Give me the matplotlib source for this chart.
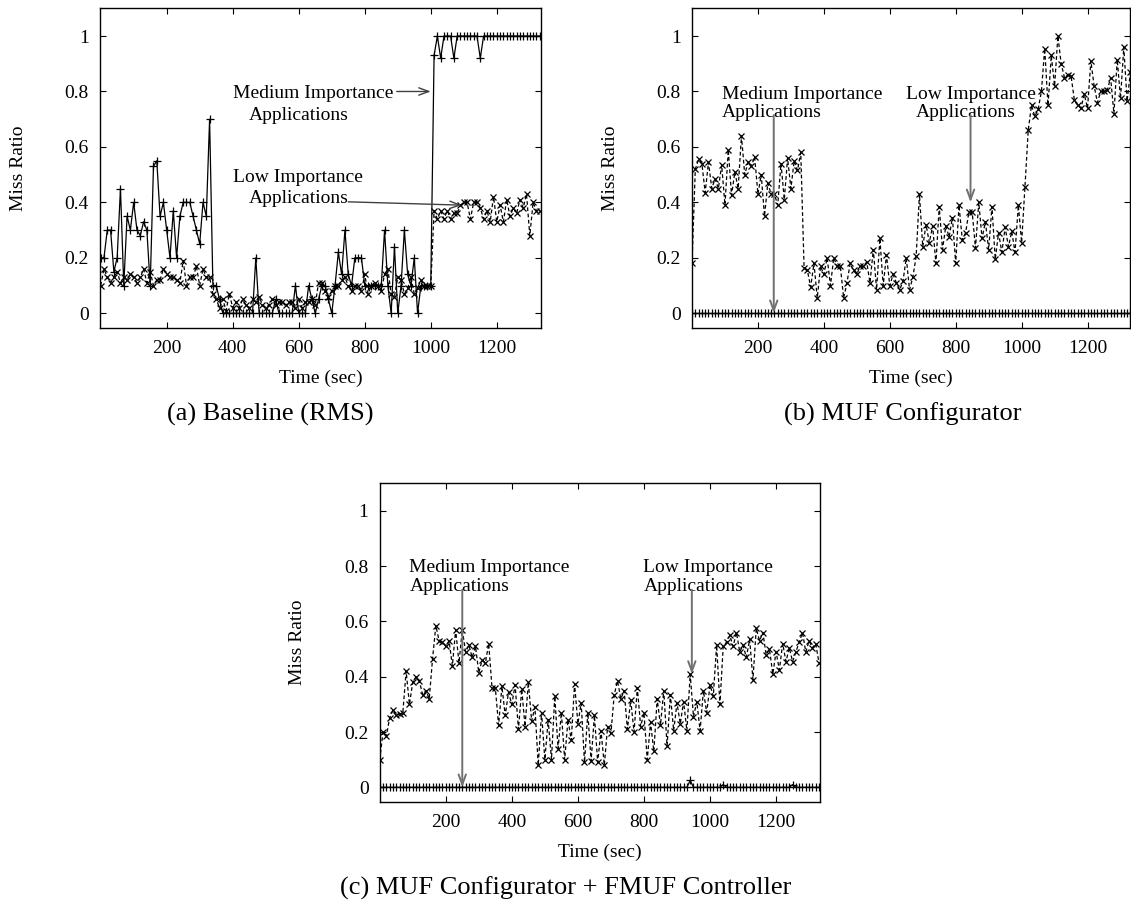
import numpy as np
import matplotlib
matplotlib.use("Agg")
import matplotlib.pyplot as plt

plt.rcParams["font.family"] = ["Liberation Serif", "DejaVu Serif"]
plt.rcParams["mathtext.fontset"] = "stix"

# sampling instants (s), one sample every 10 s
time_s = np.arange(0, 1340, 10)

# (a) Baseline (RMS)
rms_medium = [
    0.2, 0.2, 0.3, 0.3, 0.15, 0.2, 0.45, 0.1, 0.35, 0.3,
    0.4, 0.3, 0.28, 0.33, 0.3, 0.1, 0.53, 0.55, 0.35, 0.4,
    0.3, 0.2, 0.37, 0.2, 0.35, 0.4, 0.4, 0.4, 0.35, 0.3,
    0.25, 0.4, 0.35, 0.7,
    0.1, 0.1, 0.05, 0, 0, 0, 0, 0, 0, 0, 0, 0, 0,
    0.2, 0, 0, 0, 0, 0, 0.05, 0, 0, 0,
    0, 0, 0.1, 0, 0, 0, 0.1, 0.05, 0, 0.05,
    0.1, 0.1, 0.05, 0, 0.1, 0.22, 0.14, 0.3, 0.14, 0.1,
    0.2, 0.2, 0.2, 0.1, 0.1, 0.1, 0.1, 0.1, 0.1, 0.3,
    0.1, 0, 0.24, 0, 0.1, 0.3, 0.14, 0.1, 0.2, 0,
    0.1, 0.1, 0.1, 0.1,
    0.93, 1, 0.92, 1, 1, 1, 0.92, 1, 1, 1, 1, 1, 1, 1, 0.92,
    1, 1, 1, 1, 1, 1, 1, 1, 1, 1, 1, 1, 1, 1, 1, 1, 1, 1,
]
rms_low = [
    0.1, 0.16, 0.13, 0.11, 0.13, 0.15, 0.11, 0.13, 0.12, 0.14,
    0.13, 0.11, 0.13, 0.16, 0.11, 0.15, 0.1, 0.12, 0.12, 0.16,
    0.14, 0.13, 0.13, 0.12, 0.11, 0.19, 0.1, 0.13, 0.13, 0.17,
    0.1,
    0.16, 0.13, 0.13, 0.07, 0.05, 0.02, 0.05, 0.01, 0.07, 0.02,
    0.04, 0.02, 0.05, 0.03, 0.02, 0.05, 0.04, 0.06, 0.03, 0.02,
    0.03, 0.05, 0.03, 0.04, 0.04, 0.03, 0.04, 0.04, 0.02, 0.05,
    0.02, 0.04, 0.04, 0.05, 0.03,
    0.11, 0.11, 0.08, 0.06, 0.08, 0.1, 0.1, 0.12, 0.13, 0.1,
    0.08, 0.1, 0.1, 0.08, 0.14, 0.07, 0.1, 0.11, 0.1, 0.08,
    0.14, 0.16, 0.07, 0.06, 0.13, 0.12, 0.07, 0.09, 0.13, 0.07,
    0.09, 0.12, 0.1, 0.1, 0.1,
    0.37, 0.34, 0.37, 0.34, 0.37, 0.34, 0.36, 0.36, 0.39, 0.4,
    0.4, 0.34, 0.4, 0.4, 0.38, 0.34, 0.37, 0.33, 0.42, 0.33,
    0.39, 0.33, 0.41, 0.35, 0.38, 0.36, 0.41, 0.38, 0.43, 0.28,
    0.4, 0.37, 0.37,
]

# (b) MUF Configurator
muf_medium = [0.0] * 134
muf_low = [
    0.18, 0.52, 0.555, 0.54, 0.435, 0.545, 0.45, 0.485, 0.45, 0.535,
    0.39, 0.59, 0.425, 0.51, 0.45, 0.64, 0.5, 0.545, 0.53, 0.565,
    0.43, 0.5, 0.35, 0.47, 0.43, 0.43, 0.39, 0.54, 0.41, 0.56,
    0.45, 0.55, 0.515, 0.58,
    0.165, 0.155, 0.095, 0.18, 0.055, 0.17, 0.14, 0.2, 0.1, 0.2,
    0.17, 0.17, 0.055, 0.11, 0.18, 0.155, 0.14, 0.17, 0.17, 0.185,
    0.11, 0.23, 0.085, 0.27, 0.1, 0.21, 0.1, 0.14, 0.11, 0.085,
    0.115, 0.2, 0.085, 0.13, 0.205,
    0.43, 0.24, 0.32, 0.255, 0.315, 0.18, 0.385, 0.23, 0.315, 0.275,
    0.345, 0.18, 0.39, 0.265, 0.29, 0.365, 0.365, 0.235, 0.4, 0.27,
    0.33, 0.23, 0.385, 0.195, 0.29, 0.22, 0.31, 0.24, 0.295, 0.22,
    0.39, 0.255,
    0.454, 0.66, 0.75, 0.71, 0.735, 0.8, 0.955, 0.75, 0.93, 0.82,
    1.0, 0.9, 0.85, 0.86, 0.855, 0.77, 0.75, 0.74, 0.79, 0.74,
    0.91, 0.82, 0.76, 0.8, 0.8, 0.805, 0.85, 0.72, 0.915, 0.775,
    0.96, 0.765, 0.87,
]

# (c) MUF Configurator + FMUF Controller
fmuf_medium = [0.0] * 134
fmuf_medium[94] = 0.025
fmuf_medium[104] = 0.01
fmuf_medium[125] = 0.01
fmuf_low = [
    0.1, 0.2, 0.185, 0.25, 0.28, 0.26, 0.265, 0.27, 0.42, 0.3,
    0.38, 0.4, 0.385, 0.335, 0.35, 0.32, 0.465, 0.585, 0.53, 0.525,
    0.51, 0.53, 0.44, 0.57, 0.45, 0.57, 0.49, 0.515, 0.47, 0.51,
    0.415, 0.46, 0.45, 0.52, 0.36, 0.36, 0.225, 0.365, 0.26, 0.345,
    0.3, 0.37, 0.21, 0.355, 0.22, 0.38, 0.24, 0.29, 0.08, 0.27,
    0.1, 0.245, 0.1, 0.33, 0.14, 0.27, 0.1, 0.245, 0.17, 0.375,
    0.23, 0.305, 0.09, 0.27, 0.095, 0.26, 0.09, 0.205, 0.08, 0.22,
    0.195, 0.335, 0.385, 0.32, 0.35, 0.21, 0.315, 0.2, 0.36, 0.22,
    0.27, 0.1, 0.235, 0.13, 0.32, 0.225, 0.35, 0.15, 0.335, 0.205,
    0.305, 0.23, 0.31, 0.205, 0.41, 0.255, 0.31, 0.205, 0.35, 0.27,
    0.37, 0.33, 0.515, 0.3, 0.51, 0.525, 0.55, 0.51, 0.56, 0.49,
    0.515, 0.47, 0.535, 0.39, 0.575, 0.53, 0.56, 0.48, 0.5, 0.41,
    0.49, 0.425, 0.52, 0.455, 0.505, 0.455, 0.49, 0.525, 0.56, 0.49,
    0.53, 0.505, 0.52, 0.45,
]

y_ticks = [0, 0.2, 0.4, 0.6, 0.8, 1.0]
y_tick_labels = ["0", "0.2", "0.4", "0.6", "0.8", "1"]
x_ticks = [200, 400, 600, 800, 1000, 1200]
captions = ["(a) Baseline (RMS)", "(b) MUF Configurator",
            "(c) MUF Configurator + FMUF Controller"]

W, H = 1131, 902
fig = plt.figure(figsize=(W / 100, H / 100), dpi=100)


def px_axes(left, right, top, bottom):
    return fig.add_axes([left / W, 1 - bottom / H, (right - left) / W, (bottom - top) / H])


ax_a = px_axes(100.0, 540.7, 8.3, 327.7)
ax_b = px_axes(692.0, 1130.4, 8.3, 327.7)
ax_c = px_axes(379.7, 820.0, 483.3, 801.7)

FS = 14


def style(ax, xmax):
    ax.set_xlim(-2 if ax is ax_a else 0, xmax)
    ax.set_ylim(-0.052, 1.1)
    ax.set_xticks(x_ticks)
    ax.set_yticks(y_ticks)
    ax.set_yticklabels(y_tick_labels)
    ax.tick_params(direction="in", top=True, right=True, length=4, width=0.8,
                   labelsize=FS, colors="black")
    ax.tick_params(axis="y", pad=8)
    ax.tick_params(axis="x", pad=9)
    for s in ax.spines.values():
        s.set_linewidth(1.0)
    ax.set_xlabel("Time (sec)", fontsize=FS)
    ax.xaxis.set_label_coords(0.5, -0.158)
    ax.xaxis.label.set_va("center")
    ax.set_ylabel("Miss Ratio", fontsize=FS)
    ax.yaxis.set_label_coords(-0.186, 0.5)
    ax.yaxis.label.set_va("center")


def plot_pair(ax, medium, low):
    ax.plot(time_s, medium, color="black", lw=0.9, marker="+", ms=6, mew=0.9, zorder=3)
    ax.plot(time_s, low, color="black", lw=0.9, ls=(0, (3, 2)), marker="x", ms=4.5,
            mew=0.9, zorder=2)


def label(ax, x1, x2, y1, y2, first, second):
    ax.text(x1, y1, first, fontsize=FS, ha="left", va="baseline")
    ax.text(x2, y2, second, fontsize=FS, ha="left", va="baseline")


def arrow(ax, start, end, color, lw):
    ax.annotate("", xy=end, xytext=start,
                arrowprops=dict(arrowstyle="->,head_length=0.6,head_width=0.22",
                                mutation_scale=12, color=color, lw=lw,
                                shrinkA=0, shrinkB=0), zorder=5)


# (a)
plot_pair(ax_a, rms_medium, rms_low)
style(ax_a, 1333)
label(ax_a, 400, 450, 0.775, 0.697, "Medium Importance", "Applications")
label(ax_a, 400, 450, 0.475, 0.397, "Low Importance", "Applications")
arrow(ax_a, (897, 0.80), (1000, 0.80), "#404040", 1.0)
arrow(ax_a, (750, 0.402), (1094, 0.39), "#404040", 1.0)

# (b)
plot_pair(ax_b, muf_medium, muf_low)
style(ax_b, 1330)
label(ax_b, 90, 90, 0.773, 0.707, "Medium Importance", "Applications")
label(ax_b, 648, 679, 0.773, 0.707, "Low Importance", "Applications")
arrow(ax_b, (248, 0.715), (248, 0.0), "#707070", 1.4)
arrow(ax_b, (845, 0.715), (845, 0.40), "#707070", 1.4)

# (c)
plot_pair(ax_c, fmuf_medium, fmuf_low)
style(ax_c, 1333)
label(ax_c, 90, 90, 0.7775, 0.709, "Medium Importance", "Applications")
label(ax_c, 797, 799, 0.7775, 0.709, "Low Importance", "Applications")
arrow(ax_c, (250, 0.715), (250, 0.0), "#707070", 1.4)
arrow(ax_c, (945, 0.715), (945, 0.41), "#707070", 1.4)

# sub-figure captions
CFS = 19
fig.text(270 / W, 1 - 421 / H, captions[0], fontsize=CFS, ha="center", va="baseline")
fig.text(903 / W, 1 - 421 / H, captions[1], fontsize=CFS, ha="center", va="baseline")
fig.text(566 / W, 1 - 895 / H, captions[2], fontsize=CFS, ha="center", va="baseline")

fig.savefig("out.png", dpi=100)
